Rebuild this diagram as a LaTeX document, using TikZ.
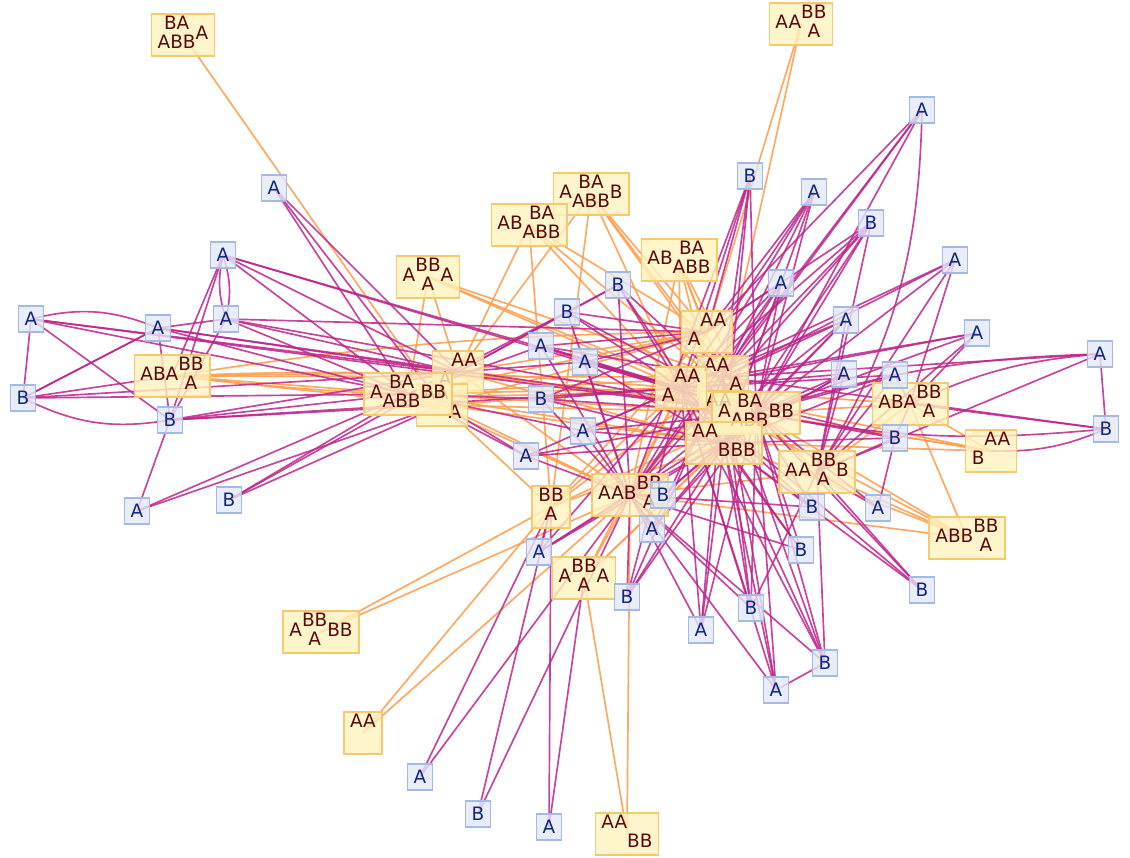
\documentclass[tikz,border=0pt]{standalone}
\usepackage{fontspec}
\setmainfont{DejaVu Sans}
\usetikzlibrary{backgrounds}
\definecolor{bfill}{RGB}{226,232,247}
\definecolor{bdraw}{RGB}{165,185,230}
\definecolor{btext}{RGB}{15,40,125}
\definecolor{yfill}{RGB}{255,243,190}
\definecolor{ydraw}{RGB}{248,200,110}
\definecolor{ytext}{RGB}{90,10,10}
\definecolor{pcol}{RGB}{188,36,138}
\definecolor{ocol}{RGB}{255,158,80}
\newcommand{\stk}[2]{\begin{tabular}{@{}c@{}}#1\\#2\end{tabular}}
\newcommand{\supr}[2]{\begin{tabular}{@{}l@{}l@{}}&#2\\#1&\end{tabular}}
\newcommand{\subr}[2]{\begin{tabular}{@{}l@{}l@{}}#1&\\&#2\end{tabular}}
\begin{document}
\begin{tikzpicture}[x=0.02cm,y=-0.02cm,font=\fontsize{10.5}{11.3}\selectfont,
  bn/.style={draw=bdraw,fill=bfill,fill opacity=0.8,text opacity=1,text=btext,line width=0.85pt,minimum width=0.5cm,minimum height=0.52cm,inner sep=1pt},
  yn/.style={draw=ydraw,fill=yfill,fill opacity=0.8,text opacity=1,text=ytext,line width=0.85pt,minimum height=0.84cm,inner xsep=3.5pt,inner ysep=0.5pt},
  pe/.style={draw=pcol,opacity=0.85,line width=0.95pt},
  oe/.style={draw=ocol,opacity=0.9,line width=0.95pt}]
\useasboundingbox (0,0) rectangle (1130,858);
% yellow nodes
\node[yn] (y1) at (183,35) {\stk{BA}{ABB}A};
\node[yn] (y2) at (801,24) {AA\stk{BB}{A}};
\node[yn] (y3) at (591,194) {A\stk{BA}{ABB}B};
\node[yn] (y4) at (529,225) {AB\stk{BA}{ABB}};
\node[yn] (y5) at (428,277) {A\stk{BB}{A}A};
\node[yn] (y6) at (679,260) {AB\stk{BA}{ABB}};
\node[yn] (y7) at (172,376) {ABA\stk{BB}{A}};
\node[yn] (y8) at (707,332) {\supr{A}{AA}};
\node[yn] (y9) at (458,372) {\supr{A}{AA}};
\node[yn] (y11) at (442,405) {\subr{AA}{A}};
\node[yn] (y10) at (408,394) {A\stk{BA}{ABB}BB};
\node[yn] (y12) at (723,377) {\subr{AA}{A}};
\node[yn] (y26) at (725,412) {\subr{AA}{A}};
\node[yn] (y13) at (681,388) {\supr{A}{AA}};
\node[yn] (y14) at (756,413) {A\stk{BA}{ABB}BB};
\node[yn] (y15) at (724,443) {\subr{AA}{BBB}};
\node[yn] (y16) at (630,495) {AAB\stk{BB}{A}};
\node[yn] (y17) at (551,507) {\stk{BB}{A}};
\node[yn] (y18) at (584,578) {A\stk{BB}{A}A};
\node[yn] (y19) at (817,472) {AA\stk{BB}{A}B};
\node[yn] (y20) at (910,404) {ABA\stk{BB}{A}};
\node[yn] (y21) at (991,451) {\supr{B}{AA}};
\node[yn] (y22) at (967,538) {ABB\stk{BB}{A}};
\node[yn] (y23) at (321,632) {A\stk{BB}{A}BB};
\node[yn] (y24) at (363,733) {\subr{AA}{}};
\node[yn] (y25) at (627,834) {\subr{AA}{BB}};
% blue nodes
\node[bn] (b1) at (274,188) {A};
\node[bn] (b2) at (223,255) {A};
\node[bn] (b3) at (31,319) {A};
\node[bn] (b4) at (158,328) {A};
\node[bn] (b5) at (226,319) {A};
\node[bn] (b6) at (23,398) {B};
\node[bn] (b7) at (170,420) {B};
\node[bn] (b8) at (137,511) {A};
\node[bn] (b9) at (229,500) {B};
\node[bn] (b10) at (750,176) {B};
\node[bn] (b11) at (814,192) {A};
\node[bn] (b12) at (922,110) {A};
\node[bn] (b13) at (871,223) {B};
\node[bn] (b14) at (955,260) {A};
\node[bn] (b15) at (781,283) {A};
\node[bn] (b16) at (618,285) {B};
\node[bn] (b17) at (567,312) {B};
\node[bn] (b18) at (541,346) {A};
\node[bn] (b19) at (585,362) {A};
\node[bn] (b20) at (846,320) {A};
\node[bn] (b21) at (977,333) {A};
\node[bn] (b22) at (1100,354) {A};
\node[bn] (b23) at (844,374) {A};
\node[bn] (b24) at (895,375) {A};
\node[bn] (b25) at (1106,429) {B};
\node[bn] (b26) at (541,399) {B};
\node[bn] (b27) at (583,431) {A};
\node[bn] (b28) at (895,438) {B};
\node[bn] (b29) at (526,456) {A};
\node[bn] (b30) at (663,495) {B};
\node[bn] (b31) at (812,507) {B};
\node[bn] (b32) at (878,508) {A};
\node[bn] (b33) at (652,529) {A};
\node[bn] (b34) at (539,552) {A};
\node[bn] (b35) at (801,550) {B};
\node[bn] (b36) at (922,590) {B};
\node[bn] (b37) at (627,597) {B};
\node[bn] (b38) at (751,608) {B};
\node[bn] (b39) at (701,630) {A};
\node[bn] (b40) at (825,663) {B};
\node[bn] (b41) at (776,690) {A};
\node[bn] (b42) at (420,777) {A};
\node[bn] (b43) at (478,814) {B};
\node[bn] (b44) at (549,827) {A};
\begin{pgfonlayer}{background}
% orange edges
\foreach \a/\b in {y1/y11,y2/y8,y2/y12,y3/y9,y3/y17,y3/y13,y3/y8,y3/y12,y3/y14,y4/y9,y4/y17,y4/y8,y4/y14,y4/y13,
  y5/y10,y5/y9,y5/y14,y5/y12,y5/y13,y6/y8,y6/y13,y6/y12,y6/y14,y6/y15,y6/y16,y7/y10,y7/y9,y7/y11,y7/y12,
  y8/y9,y8/y10,y8/y11,y8/y16,y8/y17,y9/y13,y9/y14,y9/y16,y9/y15,y10/y13,y10/y14,y10/y15,y10/y16,y10/y12,
  y11/y14,y11/y15,y11/y16,y11/y17,y11/y13,y12/y16,y12/y17,y13/y17,y14/y17,y14/y20,y14/y21,y14/y19,
  y15/y17,y15/y18,y16/y18,y16/y19,y19/y22,y19/y20,y20/y21,y20/y22,y20/y13,y21/y15,y21/y14,y21/y13,
  y22/y14,y22/y15,y22/y16,y22/y13,y23/y16,y23/y17,y24/y16,y24/y17,y25/y16,y25/y18,y18/y13,y18/y14}
  \draw[oe] (\a.center) -- (\b.center);
\draw[oe] (y7.center) to[bend left=6] (y14.center);
\draw[oe] (y7.center) to[bend right=5] (y13.center);
\draw[oe] (y7.center) to[bend left=4] (y8.center);
% purple edges
\foreach \a/\b in {b1/y9,b1/y10,b1/y11,b2/b7,b2/y7,b2/y9,b2/y10,b2/y14,b2/y13,
  b3/b6,b3/b7,b3/y10,b3/y9,b3/y14,b4/b6,b4/b7,b4/b5,b4/y10,b4/y14,b4/y9,
  b5/y9,b5/y10,b5/b7,b5/y14,b5/y8,b6/b4,b6/y7,b6/y10,b6/y9,b7/y10,b7/y11,b7/b8,b7/y9,b7/y13,
  b8/y10,b8/y11,b9/y10,b9/y11,b9/y9,
  b10/y8,b10/y12,b10/y13,b10/y14,b10/y15,b10/y16,b11/y8,b11/y13,b11/y14,b11/y12,b11/y15,b11/y16,
  b12/y14,b12/y8,b12/y12,b12/y16,b13/y14,b13/y12,b13/y16,b13/y8,b13/y15,b13/y19,b13/y13,
  b14/y14,b14/y19,b14/y12,b14/y20,b14/y13,b15/y8,b15/y14,b15/y13,b15/y15,b15/y12,b15/y16,
  b16/y9,b16/y13,b16/y14,b16/y16,b16/b17,b16/y15,b17/y9,b17/y10,b17/y8,b17/y13,b17/y14,b17/y16,
  b18/y10,b18/y8,b18/y14,b18/y12,b18/y13,b18/y16,b19/y9,b19/y13,b19/y14,b19/y15,b19/y8,b19/y16,
  b20/y14,b20/y12,b20/y19,b20/y16,b20/y15,b20/y13,b21/y14,b21/y13,b21/y19,b21/y20,b21/y12,
  b22/b25,b22/y12,b22/y19,b23/y14,b23/y13,b23/y15,b23/y16,b23/y19,b24/y14,b24/y13,b24/y15,b24/y20,b24/y19,
  b25/y20,b25/y12,b26/y10,b26/y14,b26/y13,b26/y8,b26/y16,b26/y15,b27/y10,b27/y14,b27/y15,b27/y13,b27/y16,
  b28/y14,b28/y15,b28/y19,b28/y13,b28/y20,b28/b32,b29/y10,b29/y11,b29/y14,b29/y16,b29/y15,b29/y13,
  b30/y15,b30/y14,b30/y16,b31/y14,b31/y15,b31/y13,b31/y16,b32/y14,b32/y19,
  b33/y14,b33/y15,b33/y16,b33/y12,b34/y17,b34/y13,b34/y14,b34/y15,b34/y16,
  b35/y14,b35/y15,b35/y13,b35/y16,b36/y14,b36/y15,b36/y19,b36/y13,b37/y14,b37/y15,b37/y12,b37/y13,b37/y16,
  b38/y16,b38/y14,b38/y19,b38/y13,b38/y15,b38/y12,b39/y14,b39/y15,b39/y16,b39/y13,b39/y12,
  b40/y14,b40/y15,b40/y13,b40/y16,b40/y19,b40/y12,b40/b41,
  b41/y13,b41/y15,b41/y16,b41/y12,b41/y14,b42/y17,b42/y16,b43/y17,b43/y16,b44/y17,b44/y18}
  \draw[pe] (\a.center) -- (\b.center);
\draw[pe] (b2.center) to[bend left=15] (b5.center);
\draw[pe] (b2.center) to[bend right=15] (b5.center);
\draw[pe] (b3.center) to[bend left=18] (b4.center);
\draw[pe] (b6.center) to[bend right=18] (b7.center);
\draw[pe] (b12.center) to[bend left=15] (y19.center);
\draw[pe] (b22.center) to[bend right=8] (y14.center);
\draw[pe] (b22.center) to[bend right=10] (y20.center);
\draw[pe] (b25.center) to[bend left=8] (y14.center);
\draw[pe] (b25.center) to[bend left=12] (y21.center);
\end{pgfonlayer}
\end{tikzpicture}
\end{document}
